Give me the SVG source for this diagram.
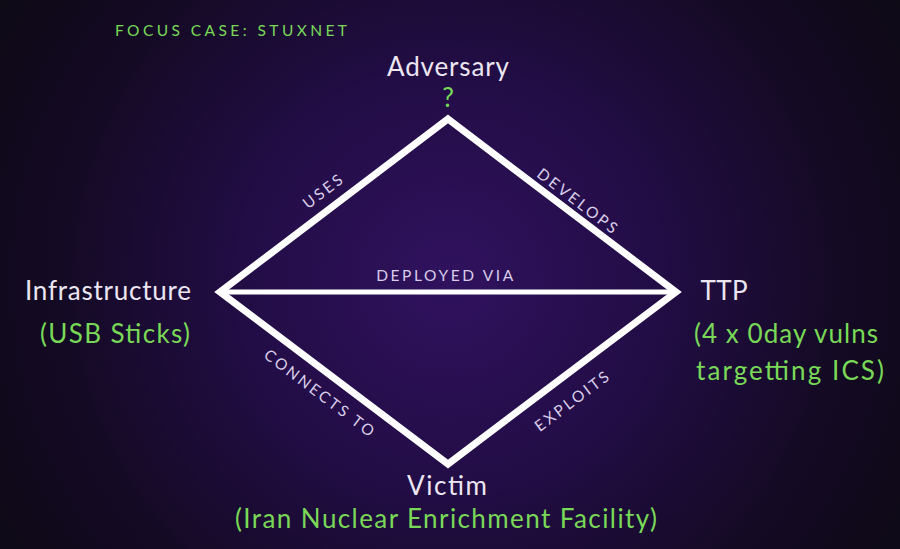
<svg xmlns="http://www.w3.org/2000/svg" width="900" height="549" viewBox="0 0 900 549">
<defs>
<radialGradient id="bg" cx="450" cy="280" r="560" gradientUnits="userSpaceOnUse">
<stop offset="0" stop-color="#30125e"/>
<stop offset="0.35" stop-color="#230d47"/>
<stop offset="0.7" stop-color="#140a24"/>
<stop offset="1" stop-color="#0c0912"/>
</radialGradient>
<style>
.t{font-family:Lato,"Open Sans","Liberation Sans",sans-serif;}
.name{font-size:26px;fill:#ece6f2;text-anchor:middle;}
.sub{font-size:26px;fill:#79d957;}
.lbl{font-size:15.5px;fill:#d9cdea;letter-spacing:2.6px;text-anchor:middle;}
.edge{stroke:#ffffff;stroke-width:7;fill:none;stroke-linejoin:miter;}
</style>
</defs>
<rect width="900" height="549" fill="url(#bg)"/>
<text class="t" x="115" y="36" font-size="15.5" fill="#79d957" textLength="232" lengthAdjust="spacing">FOCUS CASE: STUXNET</text>
<g id="connectors">
<polygon class="edge" points="448,119 676,292 448,464 220,292"/>
<line x1="222" y1="292" x2="674" y2="292" stroke="#ffffff" stroke-width="5"/>
<text class="t lbl" transform="translate(327,195) rotate(-37.4)">USES</text>
<text class="t lbl" transform="translate(575,206) rotate(37.4)">DEVELOPS</text>
<text class="t lbl" x="446" y="281">DEPLOYED VIA</text>
<text class="t lbl" transform="translate(317,398) rotate(37)">CONNECTS TO</text>
<text class="t lbl" transform="translate(576,405) rotate(-37)">EXPLOITS</text>
</g>
<g id="adversary">
<text class="t name" x="448" y="76" textLength="122" lengthAdjust="spacing">Adversary</text>
<text class="t sub" x="448" y="107" font-size="20" text-anchor="middle">?</text>
</g>
<g id="infrastructure">
<text class="t name" x="108" y="300" textLength="166" lengthAdjust="spacing">Infrastructure</text>
<text class="t sub" x="115" y="343" text-anchor="middle" textLength="150" lengthAdjust="spacing">(USB Sticks)</text>
</g>
<g id="ttp">
<text class="t name" x="724" y="300" textLength="47" lengthAdjust="spacing">TTP</text>
<text class="t sub" x="694" y="343" textLength="184" lengthAdjust="spacing">(4 x 0day vulns</text>
<text class="t sub" x="696" y="380" textLength="188" lengthAdjust="spacing">targetting ICS)</text>
</g>
<g id="victim">
<text class="t name" x="447" y="495" textLength="80" lengthAdjust="spacing">Victim</text>
<text class="t sub" x="446" y="528" text-anchor="middle" textLength="422" lengthAdjust="spacing">(Iran Nuclear Enrichment Facility)</text>
</g>
</svg>
